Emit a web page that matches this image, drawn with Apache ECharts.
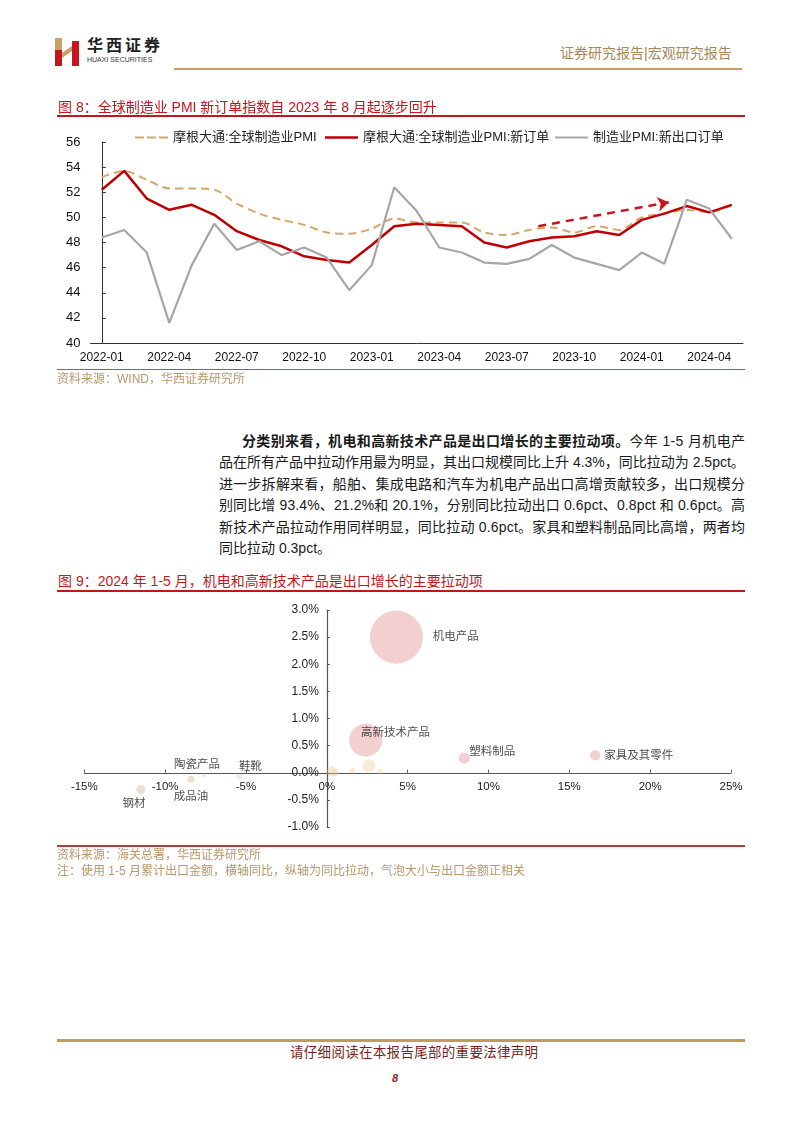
<!DOCTYPE html>
<html><head><meta charset="utf-8">
<script src="https://cdn.jsdelivr.net/npm/echarts@6/dist/echarts.min.js"></script>
<style>
body{margin:0;background:#fff;}
#page{position:relative;width:802px;height:1133px;overflow:hidden;background:#fff;font-family:"Liberation Sans","Noto Sans CJK SC",sans-serif;}
.abs{position:absolute;white-space:nowrap;}
.pl{position:absolute;white-space:nowrap;font-size:14px;line-height:21px;color:#1a1a1a;}
.rule{position:absolute;}
</style></head>
<body><div id="page">
<div id="c1" style="position:absolute;left:0;top:118px;width:802px;height:262px;"></div>
<div id="c2" style="position:absolute;left:0;top:595px;width:802px;height:255px;"></div>

<svg class="abs" style="left:55px;top:38px" width="25" height="28" viewBox="0 0 25 28">
  <rect x="0" y="0" width="7" height="12" fill="#C9A063"/>
  <rect x="0" y="12" width="7" height="16" fill="#C4161C"/>
  <rect x="17" y="3" width="7" height="25" fill="#C4161C"/>
  <polygon points="7,15 17,8 17,13 7,20" fill="#C9A063"/>
</svg>
<div class="abs" style="left:87px;top:37px;font-size:16px;font-weight:bold;letter-spacing:3px;color:#222;line-height:18px;">华西证券</div>
<div class="abs" style="left:87px;top:56px;font-size:7px;color:#333;line-height:8px;">HUAXI SECURITIES</div>
<div class="abs" style="left:560px;top:44px;font-size:14px;color:#A98558;line-height:18px;">证券研究报告|宏观研究报告</div>
<div class="rule" style="left:174px;top:68px;width:568px;height:2px;background:#C9A063;"></div>

<div class="abs" style="left:58px;top:98px;font-size:14px;color:#C3161C;line-height:18px;">图 8：全球制造业 PMI 新订单指数自 2023 年 8 月起逐步回升</div>
<div class="rule" style="left:57px;top:115px;width:688px;height:1.5px;background:#C3161C;"></div>

<div class="rule" style="left:57px;top:368.5px;width:688px;height:1.5px;background:#C9484A;"></div>
<div class="abs" style="left:57px;top:371px;font-size:12px;color:#B8976A;line-height:16px;">资料来源：WIND，华西证券研究所</div>

<div class="pl" data-w="503" style="left:242px;top:431px;"><b>分类别来看，机电和高新技术产品是出口增长的主要拉动项。</b>今年 1-5 月机电产</div>
<div class="pl" data-w="526" style="left:219px;top:452.4px;">品在所有产品中拉动作用最为明显，其出口规模同比上升 4.3%，同比拉动为 2.5pct。</div>
<div class="pl" data-w="526" style="left:219px;top:473.8px;">进一步拆解来看，船舶、集成电路和汽车为机电产品出口高增贡献较多，出口规模分</div>
<div class="pl" data-w="526" style="left:219px;top:495.2px;">别同比增 93.4%、21.2%和 20.1%，分别同比拉动出口 0.6pct、0.8pct 和 0.6pct。高</div>
<div class="pl" data-w="526" style="left:219px;top:516.6px;">新技术产品拉动作用同样明显，同比拉动 0.6pct。家具和塑料制品同比高增，两者均</div>
<div class="pl" style="left:219px;top:538px;">同比拉动 0.3pct。</div>

<div class="abs" style="left:58px;top:572px;font-size:14px;color:#C3161C;line-height:18px;">图 9：2024 年 1-5 月，机电和高新技术产品是出口增长的主要拉动项</div>
<div class="rule" style="left:57px;top:590px;width:688px;height:1.5px;background:#C3161C;"></div>

<div class="rule" style="left:57px;top:845px;width:688px;height:1.5px;background:#B83A3A;"></div>
<div class="abs" style="left:57px;top:847px;font-size:12px;color:#B8976A;line-height:16px;">资料来源：海关总署，华西证券研究所</div>
<div class="abs" style="left:57px;top:863px;font-size:12px;color:#B8976A;line-height:16px;">注：使用 1-5 月累计出口金额，横轴同比，纵轴为同比拉动，气泡大小与出口金额正相关</div>

<div class="rule" style="left:57px;top:1039px;width:688px;height:2.5px;background:#C49A5A;"></div>
<div class="abs" style="left:290px;top:1044px;font-size:13.5px;color:#7A1F1F;line-height:18px;letter-spacing:0.3px;">请仔细阅读在本报告尾部的重要法律声明</div>
<div class="abs" style="left:392px;top:1071px;font-size:11px;font-weight:bold;font-style:italic;color:#8B1A1A;line-height:14px;">8</div>
</div>
<script>
// justify paragraph lines
document.querySelectorAll('.pl[data-w]').forEach(function(el){
  var target = parseFloat(el.getAttribute('data-w'));
  var natural = el.scrollWidth;
  var n = el.textContent.length;
  if (n > 1) el.style.letterSpacing = ((target - natural) / (n - 1)) + 'px';
});

// ---------- Chart 1 data ----------
const months = ['2022-01','2022-02','2022-03','2022-04','2022-05','2022-06','2022-07','2022-08','2022-09','2022-10','2022-11','2022-12',
                '2023-01','2023-02','2023-03','2023-04','2023-05','2023-06','2023-07','2023-08','2023-09','2023-10','2023-11','2023-12',
                '2024-01','2024-02','2024-03','2024-04','2024-05'];
const jpmPMI = [53.2,53.7,53.0,52.3,52.3,52.2,51.1,50.3,49.8,49.4,48.8,48.7,
                49.1,49.9,49.6,49.6,49.6,48.8,48.6,49.0,49.2,48.8,49.3,49.0,
                50.0,50.3,50.6,50.4,51.0];
const jpmNewOrders = [52.2,53.7,51.5,50.6,51.0,50.2,48.9,48.2,47.7,46.9,46.6,46.4,
                      47.8,49.3,49.5,49.4,49.3,48.0,47.6,48.1,48.4,48.5,48.9,48.6,
                      49.8,50.3,50.9,50.4,51.0];
const exportOrders = [48.4,49.0,47.2,41.6,46.2,49.5,47.4,48.1,47.0,47.6,46.8,44.2,
                      46.2,52.4,50.5,47.6,47.2,46.4,46.3,46.7,47.8,46.8,46.3,45.8,
                      47.2,46.3,51.4,50.7,48.3];
const seriesNames = ['摩根大通:全球制造业PMI','摩根大通:全球制造业PMI:新订单','制造业PMI:新出口订单'];
const trendArrow = [[19.4,49.3],[25.2,51.2]]; // [month index, value]
const pmiMin = 40, pmiMax = 56, pmiStep = 2;

// ---------- Chart 2 data ----------
const productNames = ['机电产品','高新技术产品','塑料制品','家具及其零件','钢材','成品油','陶瓷产品','鞋靴','','','','',''];
const exportYoY   = [4.3, 2.4, 8.5, 16.6, -11.5, -8.4, -7.6, -5.4, 0.3, 2.6, 1.6, 3.3, 0.5];
const exportPull  = [2.5, 0.6, 0.27, 0.32, -0.31, -0.12, -0.05, -0.07, 0.02, 0.13, 0.04, 0.02, 0.0];
const exportValue = [8300, 3200, 360, 300, 250, 150, 50, 100, 300, 500, 110, 80, 150];
const yoyTicks = [-15, 25, 5];
const pullTicks = [-1, 3, 0.5];

const FONT = '"Liberation Sans", "Noto Sans CJK SC", sans-serif';
const colors = ['#D6A56A', '#C00000', '#A6A6A6'];

const legendBase = {top: 8, itemWidth: 33, textStyle: {fontSize: 13, color: '#222', fontFamily: FONT}};
const c1 = echarts.init(document.getElementById('c1'));
c1.setOption({
  animation: false,
  textStyle: {fontFamily: FONT},
  legend: [
    Object.assign({left: 130, itemHeight: 2, data: [{name: seriesNames[0], icon: 'path://M0,0h9v2h-9zM12,0h9v2h-9zM24,0h9v2h-9z'}]}, legendBase),
    Object.assign({left: 320, itemHeight: 2.5, data: [{name: seriesNames[1], icon: 'rect'}]}, legendBase),
    Object.assign({left: 550, itemHeight: 2.2, data: [{name: seriesNames[2], icon: 'rect'}]}, legendBase)
  ],
  grid: {left: 90.5, right: 59, top: 24, bottom: 37},
  xAxis: [
    {type: 'category', data: months, boundaryGap: true,
     axisLine: {lineStyle: {color: '#333', width: 1}},
     axisTick: {inside: true, length: 4, interval: 2, lineStyle: {color: '#333'}},
     axisLabel: {interval: 2, fontSize: 12, color: '#111', margin: 9, fontFamily: FONT}},
    {type: 'value', min: -0.5, max: months.length - 0.5, show: false}
  ],
  yAxis: {type: 'value', min: pmiMin, max: pmiMax, interval: pmiStep,
    splitLine: {show: false},
    axisLine: {show: true, lineStyle: {color: '#333', width: 1}},
    axisTick: {show: true, inside: true, length: 4, lineStyle: {color: '#333'}},
    axisLabel: {fontSize: 13, color: '#111', margin: 10, fontFamily: FONT}},
  series: [
    {name: seriesNames[0], type: 'line', data: jpmPMI, symbol: 'none', smooth: 0.3,
     lineStyle: {color: colors[0], width: 2, type: [8, 5]}, itemStyle: {color: colors[0]}},
    {name: seriesNames[1], type: 'line', data: jpmNewOrders, symbol: 'none',
     lineStyle: {color: colors[1], width: 2.5}, itemStyle: {color: colors[1]}},
    {name: seriesNames[2], type: 'line', data: exportOrders, symbol: 'none',
     lineStyle: {color: colors[2], width: 2.2}, itemStyle: {color: colors[2]}},
    {type: 'lines', coordinateSystem: 'cartesian2d', xAxisIndex: 1, yAxisIndex: 0,
     data: [{coords: trendArrow}], symbol: ['none', 'arrow'], symbolSize: 11,
     lineStyle: {color: '#C8161D', width: 2.5, type: [8, 6], opacity: 1}, z: 5}
  ]
});

const labelCfg = {
  '机电产品': {position: 'right', distance: 10},
  '高新技术产品': {position: 'inside', offset: [30, -7]},
  '塑料制品': {position: 'inside', offset: [28, -6]},
  '家具及其零件': {position: 'right', distance: 4},
  '钢材': {position: 'inside', offset: [-7, 14]},
  '成品油': {position: 'inside', offset: [0, 18]},
  '陶瓷产品': {position: 'inside', offset: [-7, -11]},
  '鞋靴': {position: 'inside', offset: [11, -10]}
};
const pinkSet = ['机电产品', '高新技术产品', '塑料制品', '家具及其零件'];
const greySet = ['钢材', '成品油'];
const bubbleData = productNames.map(function (nm, i) {
  const col = pinkSet.indexOf(nm) >= 0 ? 'rgba(225,137,137,0.5)' :
              greySet.indexOf(nm) >= 0 ? 'rgba(205,180,145,0.5)' : 'rgba(232,196,140,0.42)';
  const lc = labelCfg[nm];
  return {
    name: nm,
    value: [exportYoY[i], exportPull[i], exportValue[i]],
    itemStyle: {color: col},
    label: lc ? Object.assign({show: true, formatter: nm, fontSize: 11.5, color: '#222', fontFamily: FONT}, lc) : {show: false}
  };
});

// place axes through the origin (labels follow the axis lines)
const g2 = {left: 84.3, right: 71, top: 15, bottom: 23, width: 802 - 84.3 - 71, height: 255 - 15 - 23};
const xAxisShift = -g2.height * (0 - pullTicks[0]) / (pullTicks[1] - pullTicks[0]);
const yAxisShift = -g2.width * (0 - yoyTicks[0]) / (yoyTicks[1] - yoyTicks[0]);

const c2 = echarts.init(document.getElementById('c2'));
c2.setOption({
  animation: false,
  textStyle: {fontFamily: FONT},
  grid: {left: g2.left, right: g2.right, top: g2.top, bottom: g2.bottom},
  xAxis: {type: 'value', min: yoyTicks[0], max: yoyTicks[1], interval: yoyTicks[2],
    position: 'bottom', offset: xAxisShift,
    splitLine: {show: false},
    axisLine: {show: true, onZero: false, lineStyle: {color: '#555', width: 1.2}},
    axisTick: {show: true, inside: true, length: 3, lineStyle: {color: '#555'}},
    axisLabel: {formatter: '{value}%', fontSize: 11.5, color: '#222', margin: 8, fontFamily: FONT}},
  yAxis: {type: 'value', min: pullTicks[0], max: pullTicks[1], interval: pullTicks[2],
    position: 'left', offset: yAxisShift,
    splitLine: {show: false},
    axisLine: {show: true, onZero: false, lineStyle: {color: '#555', width: 1.2}},
    axisTick: {show: true, inside: true, length: 3, lineStyle: {color: '#555'}},
    axisLabel: {formatter: function (v) { return v.toFixed(1) + '%'; }, fontSize: 12, color: '#222', margin: 8, fontFamily: FONT}},
  series: [{
    type: 'scatter',
    data: bubbleData,
    symbolSize: function (val) { return Math.sqrt(val[2]) * 0.582; },
    label: {show: false}
  }]
});
</script>
</body></html>
